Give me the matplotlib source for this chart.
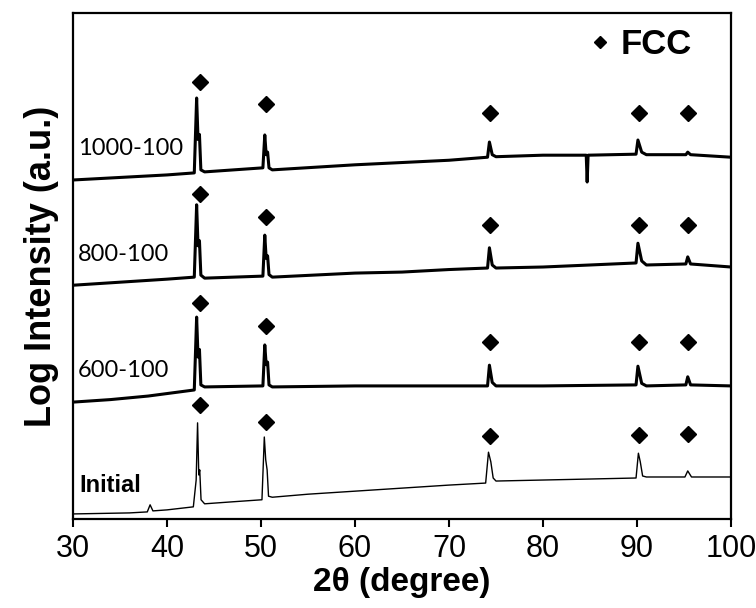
import numpy as np
import matplotlib
matplotlib.use("Agg")
import matplotlib.pyplot as plt
from matplotlib.lines import Line2D

# 2theta / log intensity (a.u.), one list pair per pattern
tt_initial = [30, 36, 37.9, 38.2, 38.5, 40, 42.8, 43.1, 43.25, 43.38, 43.48, 43.62, 44, 47,
              50.1, 50.35, 50.5, 50.65, 50.8, 51.2, 55, 60, 65, 70, 73.9, 74.2, 74.45, 74.7, 75,
              80, 85, 89.9, 90.15, 90.35, 90.6, 91, 95.1, 95.4, 95.8, 100]
int_initial = [1.0, 1.2, 1.4, 2.8, 1.6, 1.8, 2.4, 7.7, 19.0, 8.7, 9.7, 3.8, 3.0, 3.4,
               3.8, 16.2, 11.7, 9.7, 4.5, 4.3, 4.9, 5.5, 6.1, 6.7, 7.1, 13.2, 11.3, 8.1, 7.5,
               7.7, 7.9, 8.1, 13.0, 11.3, 8.5, 8.3, 8.3, 9.5, 8.3, 8.3]

tt_600 = [30, 34, 38, 42.9, 43.15, 43.3, 43.45, 43.6, 44, 50.2, 50.4, 50.55, 50.7, 50.85, 51.2,
          60, 70, 74.1, 74.3, 74.6, 75, 80, 89.9, 90.1, 90.5, 91, 95.2, 95.4, 95.7, 100]
int_600 = [23.1, 23.6, 24.3, 25.5, 39.9, 32.0, 33.5, 26.5, 26.1, 26.3, 34.4, 30.5, 31.0, 26.5, 26.1,
           26.3, 26.3, 26.3, 30.4, 27.0, 26.3, 26.3, 26.5, 30.2, 26.8, 26.3, 26.5, 28.1, 26.5, 26.3]

tt_800 = [30, 35, 40, 42.9, 43.15, 43.3, 43.45, 43.6, 44, 50.2, 50.4, 50.55, 50.7, 50.85, 51.2,
          60, 65, 70, 74.1, 74.3, 74.6, 75, 80, 85, 89.9, 90.1, 90.5, 91, 95.2, 95.4, 95.7, 100]
int_800 = [46.2, 46.8, 47.4, 47.8, 62.1, 54.0, 55.0, 48.2, 47.6, 48.0, 56.1, 51.5, 52.0, 48.3, 47.8,
           48.6, 48.8, 49.3, 49.6, 53.6, 50.2, 49.6, 49.8, 50.2, 50.6, 54.5, 51.0, 50.2, 50.4, 51.8, 50.4, 49.8]

tt_1000 = [30, 35, 40, 42.9, 43.15, 43.3, 43.45, 43.6, 44, 50.2, 50.4, 50.55, 50.7, 50.85, 51.2,
           60, 70, 74.1, 74.3, 74.6, 75, 80, 84.6, 84.7, 84.8, 89.9, 90.1, 90.5, 91, 95.2, 95.4, 95.7, 100]
int_1000 = [67.0, 67.5, 68.0, 68.4, 83.2, 75.0, 76.0, 69.0, 68.6, 69.4, 75.9, 72.0, 72.5, 69.4, 69.0,
            70.0, 70.9, 71.5, 74.5, 72.0, 71.6, 71.9, 71.9, 66.6, 71.9, 72.1, 74.9, 72.5, 72.0, 72.0, 72.5, 72.0, 71.5]

# FCC peak markers
fcc_tt = [43.5, 50.5, 74.4, 90.2, 95.4]
fcc_initial = [22.5, 19.2, 16.4, 16.6, 16.8]
fcc_600 = [42.7, 38.1, 35.0, 35.0, 35.0]
fcc_800 = [64.2, 59.7, 58.1, 58.1, 58.1]
fcc_1000 = [86.4, 82.0, 80.2, 80.2, 80.2]

sample_names = ["Initial", "600-100", "800-100", "1000-100"]
name_pos = [6.7, 29.4, 52.2, 73.3]

fig = plt.figure(figsize=(7.56, 6.08), dpi=100)
ax = fig.add_axes([0.0966, 0.1464, 0.8703, 0.8322])

ax.plot(tt_initial, int_initial, color="black", lw=1.0)
ax.plot(tt_600, int_600, color="black", lw=2.2)
ax.plot(tt_800, int_800, color="black", lw=2.2)
ax.plot(tt_1000, int_1000, color="black", lw=2.2)

for yy in (fcc_initial, fcc_600, fcc_800, fcc_1000):
    ax.plot(fcc_tt, yy, ls="none", marker="D", ms=8.5, color="black")

for name, yp in zip(sample_names, name_pos):
    if name == "Initial":
        ax.text(30.7, yp, name, ha="left", va="center", fontsize=17,
                fontweight="bold", family="Liberation Sans")
    else:
        ax.text(30.5, yp, name, ha="left", va="center", fontsize=17, family="Lato")

h = Line2D([], [], ls="none", marker="D", ms=6, color="black")
leg = ax.legend([h], ["FCC"], loc="center right", bbox_to_anchor=(0.9407, 0.9368),
                frameon=False, borderaxespad=0, borderpad=0, handlelength=0.6,
                handletextpad=0.3, prop={"family": "Liberation Sans", "weight": "bold", "size": 25})

ax.set_xlim(30, 100)
ax.set_ylim(0, 100)
ax.set_xticks(np.arange(30, 101, 10))
ax.set_yticks([])
ax.tick_params(axis="x", direction="out", length=6, width=1.5, pad=5, labelsize=22)
for lab in ax.get_xticklabels():
    lab.set_family("Liberation Sans")
for sp in ax.spines.values():
    sp.set_linewidth(1.6)

ax.set_xlabel("2θ (degree)", fontsize=24, fontweight="bold", family="Liberation Sans", labelpad=2)
ax.set_ylabel("Log Intensity (a.u.)", fontsize=26, fontweight="bold", family="Liberation Sans", labelpad=10)

fig.savefig("out.png", dpi=100)
